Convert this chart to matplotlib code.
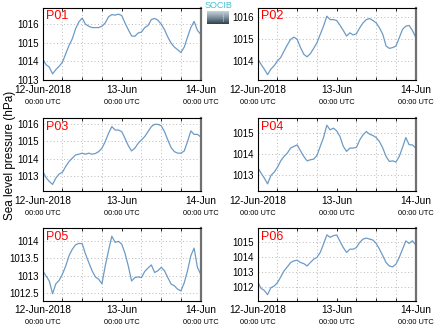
import numpy as np
import pandas as pd
import matplotlib
matplotlib.use("Agg")
import matplotlib.pyplot as plt
import matplotlib.dates as mdates

plt.rcParams['font.family'] = ['Liberation Sans', 'DejaVu Sans']

# Hourly sea level pressure (hPa), 12-Jun-2018 00:00 UTC to 14-Jun-2018 00:00 UTC
times = pd.date_range("2018-06-12 00:00", periods=49, freq="h")

p01 = [1014.14, 1013.83, 1013.69, 1013.33, 1013.56, 1013.74, 1013.96, 1014.41, 1014.86, 1015.22,
       1015.76, 1016.13, 1016.33, 1016.00, 1015.89, 1015.82, 1015.82, 1015.82, 1015.89, 1016.07,
       1016.40, 1016.52, 1016.49, 1016.54, 1016.47, 1016.07, 1015.71, 1015.37, 1015.35, 1015.53,
       1015.58, 1015.82, 1015.93, 1016.25, 1016.31, 1016.22, 1016.00, 1015.71, 1015.31, 1014.99,
       1014.77, 1014.63, 1014.48, 1014.77, 1015.31, 1015.82, 1016.15, 1015.67, 1015.46]
p02 = [1014.09, 1013.83, 1013.60, 1013.35, 1013.60, 1013.76, 1013.98, 1014.14, 1014.44, 1014.72,
       1014.98, 1015.08, 1014.98, 1014.60, 1014.29, 1014.17, 1014.32, 1014.56, 1014.82, 1015.21,
       1015.59, 1016.05, 1015.89, 1015.89, 1015.85, 1015.63, 1015.39, 1015.13, 1015.28, 1015.18,
       1015.24, 1015.51, 1015.74, 1015.89, 1015.94, 1015.85, 1015.74, 1015.51, 1015.21, 1014.67,
       1014.56, 1014.60, 1014.67, 1015.05, 1015.44, 1015.59, 1015.62, 1015.39, 1015.08]
p03 = [1013.25, 1012.90, 1012.67, 1012.50, 1012.87, 1013.10, 1013.21, 1013.54, 1013.83, 1014.02,
       1014.21, 1014.25, 1014.31, 1014.25, 1014.31, 1014.25, 1014.29, 1014.40, 1014.60, 1014.98,
       1015.46, 1015.85, 1015.65, 1015.65, 1015.56, 1015.17, 1014.75, 1014.44, 1014.60, 1014.88,
       1015.08, 1015.27, 1015.56, 1015.85, 1015.98, 1015.98, 1015.90, 1015.56, 1015.08, 1014.63,
       1014.40, 1014.31, 1014.31, 1014.44, 1014.98, 1015.60, 1015.40, 1015.40, 1015.25]
p04 = [1013.37, 1013.10, 1012.86, 1012.58, 1012.98, 1013.14, 1013.37, 1013.68, 1013.89, 1014.05,
       1014.29, 1014.37, 1014.44, 1014.16, 1013.89, 1013.68, 1013.73, 1013.76, 1013.94, 1014.37,
       1014.79, 1015.38, 1015.16, 1015.24, 1015.11, 1014.84, 1014.37, 1014.13, 1014.29, 1014.29,
       1014.32, 1014.68, 1014.92, 1015.08, 1014.95, 1014.89, 1014.79, 1014.60, 1014.29, 1013.89,
       1013.65, 1013.68, 1013.62, 1013.89, 1014.32, 1014.79, 1014.45, 1014.44, 1014.29]
p05 = [1013.14, 1012.99, 1012.84, 1012.47, 1012.76, 1012.86, 1013.04, 1013.28, 1013.58, 1013.77,
       1013.90, 1013.94, 1013.93, 1013.63, 1013.38, 1013.14, 1012.96, 1012.89, 1012.76, 1013.28,
       1013.73, 1014.15, 1013.97, 1014.00, 1013.92, 1013.65, 1013.28, 1012.84, 1012.94, 1012.96,
       1012.94, 1013.12, 1013.22, 1013.31, 1013.09, 1013.14, 1013.24, 1013.14, 1012.94, 1012.75,
       1012.70, 1012.60, 1012.55, 1012.79, 1013.14, 1013.58, 1013.80, 1013.24, 1013.04]
p06 = [1012.38, 1011.94, 1011.80, 1011.52, 1011.98, 1012.09, 1012.32, 1012.70, 1013.10, 1013.37,
       1013.66, 1013.77, 1013.81, 1013.66, 1013.59, 1013.43, 1013.66, 1013.88, 1014.00, 1014.33,
       1014.89, 1015.50, 1015.34, 1015.45, 1015.50, 1015.07, 1014.66, 1014.33, 1014.55, 1014.55,
       1014.66, 1015.00, 1015.22, 1015.29, 1015.22, 1015.16, 1014.93, 1014.55, 1014.11, 1013.66,
       1013.43, 1013.37, 1013.55, 1014.00, 1014.55, 1015.10, 1014.93, 1015.11, 1014.84]

stations = ["P01", "P02", "P03", "P04", "P05", "P06"]
series = [p01, p02, p03, p04, p05, p06]
ylims = [(1013.0, 1016.9), (1013.1, 1016.45), (1012.13, 1016.33),
         (1012.25, 1015.71), (1012.27, 1014.39), (1011.13, 1015.96)]
yticks = [[1013, 1014, 1015, 1016], [1014, 1015, 1016], [1013, 1014, 1015, 1016],
          [1013, 1014, 1015], [1012.5, 1013, 1013.5, 1014], [1012, 1013, 1014, 1015]]
ytick_labels = [[f"{v:g}" for v in t] for t in yticks]

major_labels = ["12-Jun-2018", "13-Jun", "14-Jun"]
major_ticks = pd.to_datetime(["2018-06-12", "2018-06-13", "2018-06-14"])

W, H = 435, 327
fig = plt.figure(figsize=(W / 100, H / 100), dpi=100)

col_left = [42.7, 257.7]
row_top = [7.5, 118.3, 228.0]
ax_w, ax_h = 158.0, 72.5

line_color = "#6c9bc6"

for i, (name, vals) in enumerate(zip(stations, series)):
    r, c = divmod(i, 2)
    x0 = col_left[c]
    y0 = row_top[r]
    ax = fig.add_axes([x0 / W, 1 - (y0 + ax_h) / H, ax_w / W, ax_h / H])
    ax.plot(times, vals, color=line_color, lw=0.9)
    ax.set_xlim(times[0], times[-1])
    ax.set_ylim(*ylims[i])
    ax.set_yticks(yticks[i])
    ax.set_yticklabels(ytick_labels[i], fontsize=7)

    ax.set_xticks(mdates.date2num(major_ticks))
    ax.set_xticklabels(major_labels, fontsize=7.3)
    ax.xaxis.set_minor_locator(mdates.HourLocator(byhour=[0, 6, 12, 18]))
    ax.tick_params(axis="x", which="both", direction="in", top=True, length=2.5,
                   width=0.6, pad=3.5)
    ax.tick_params(axis="y", which="both", direction="in", length=0, pad=2.5)
    ax.grid(True, which="minor", axis="x", color="#b8b8b8", ls=(0, (1, 2.5)), lw=0.7)
    ax.grid(True, which="major", axis="y", color="#b8b8b8", ls=(0, (1, 2.5)), lw=0.7)
    ax.set_axisbelow(True)

    for tick in mdates.date2num(major_ticks):
        ax.annotate("00:00 UTC", xy=(tick, 0), xycoords=("data", "axes fraction"),
                    xytext=(0, -13.5), textcoords="offset points",
                    ha="center", va="top", fontsize=5.3)

    for side in ("left", "top", "bottom"):
        ax.spines[side].set_color("black")
        ax.spines[side].set_linewidth(0.8)
    ax.spines["right"].set_color("#707070")
    ax.spines["right"].set_linewidth(1.6)

    ax.text(0.02, 0.96, name, transform=ax.transAxes, color="red",
            fontsize=9, ha="left", va="top")

fig.text(10 / W, 1 - 155 / H, "Sea level pressure (hPa)", rotation=90,
         ha="center", va="center", fontsize=8.5)

# SOCIB badge between the top panels
logo = fig.add_axes([207 / W, 1 - 24 / H, 22 / W, 13 / H])
grad = np.linspace(0, 1, 32).reshape(-1, 1)
logo.imshow(grad, aspect="auto", cmap=matplotlib.colors.LinearSegmentedColormap.from_list(
    "badge", ["#c7d3da", "#7d909c", "#2e4150"]), extent=(0, 1, 0, 1), origin="upper")
logo.plot([0.72, 0.72], [0.2, 0.8], color="white", lw=0.6, ls=(0, (1, 1.5)))
logo.set_xlim(0, 1)
logo.set_ylim(0, 1)
logo.axis("off")
fig.text(218 / W, 1 - 6 / H, "SOCIB", color="#3fc3d3", fontsize=6.5,
         ha="center", va="center")

fig.savefig("out.png", dpi=100)
